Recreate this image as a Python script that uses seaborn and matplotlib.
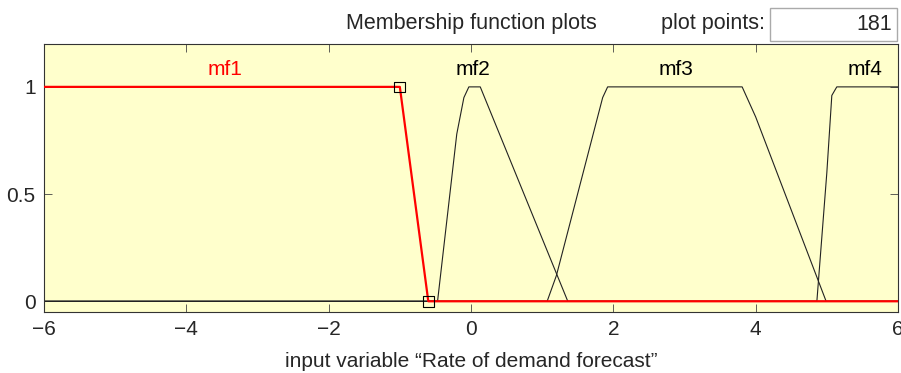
import matplotlib
matplotlib.use("Agg")
import matplotlib.pyplot as plt
import seaborn as sns
import pandas as pd
from matplotlib.patches import Rectangle

# data
mf1_x = [-6, -1.0, -0.6, 6]
mf1_y = [1, 1, 0, 0]
mf2_x = [-6, -0.47, -0.2, -0.1, -0.03, 0.13, 1.36, 6]
mf2_y = [0, 0, 0.78, 0.95, 1, 1, 0, 0]
mf3_x = [-6, 1.07, 1.2, 1.85, 1.92, 3.81, 4.0, 4.99, 6]
mf3_y = [0, 0, 0.12, 0.95, 1, 1, 0.86, 0, 0]
mf4_x = [-6, 4.86, 5.0, 5.07, 5.14, 6]
mf4_y = [0, 0, 0.6, 0.96, 1, 1]
labels = ["mf1", "mf2", "mf3", "mf4"]
label_x = [-3.46, 0.03, 2.88, 5.53]
label_y = 1.08
sq_x = [-1.0, -0.6]
sq_y = [1, 0]
x_ticks = [-6, -4, -2, 0, 2, 4, 6]
x_ticklabels = ["\u22126", "\u22124", "\u22122", "0", "2", "4", "6"]
y_ticks = [0, 0.5, 1]
y_ticklabels = ["0", "0.5", "1"]

sns.set_style("ticks")
plt.rcParams['font.family'] = ['Liberation Sans', 'DejaVu Sans']

fig = plt.figure(figsize=(9.01, 3.73), dpi=100)
ax = fig.add_axes([44/901, 61/373, 854/901, 268/373])
ax.set_facecolor("#ffffcc")

for xs, ys in [(mf2_x, mf2_y), (mf3_x, mf3_y), (mf4_x, mf4_y)]:
    df = pd.DataFrame({"x": xs, "y": ys})
    sns.lineplot(data=df, x="x", y="y", sort=False, color="#222222", lw=0.8, ax=ax, estimator=None)
df1 = pd.DataFrame({"x": mf1_x, "y": mf1_y})
sns.lineplot(data=df1, x="x", y="y", sort=False, color="#ff0000", lw=1.6, ax=ax, estimator=None, zorder=5)
sns.scatterplot(x=sq_x, y=sq_y, marker="s", s=60, facecolor="none", edgecolor="black", linewidth=0.8, ax=ax, zorder=6)

for i, (lab, lx) in enumerate(zip(labels, label_x)):
    ax.text(lx, label_y, lab, ha="center", va="center", fontsize=15,
            color="#ff0000" if i == 0 else "black")

ax.set_xlim(-6, 6)
ax.set_ylim(-0.05, 1.2)
ax.set_xticks(x_ticks)
ax.set_xticklabels(x_ticklabels, fontsize=15)
ax.set_yticks(y_ticks)
ax.set_yticklabels(y_ticklabels, fontsize=15)
ax.tick_params(direction="in", top=True, right=True, length=6, width=0.6, color="#444444", pad=6)
for s in ax.spines.values():
    s.set_linewidth(0.8)
    s.set_color("#333333")
ax.set_xlabel("input variable \u201cRate of demand forecast\u201d", fontsize=15, labelpad=9)
ax.set_ylabel("")

fig.text(471/901, 1 - 23/373, "Membership function plots", ha="center", va="center", fontsize=15.5)
fig.text(713/901, 1 - 23/373, "plot points:", ha="center", va="center", fontsize=15.5)
box = Rectangle((770/901, 1 - 41/373), 127/901, 33/373, transform=fig.transFigure,
                facecolor="white", edgecolor="#aaaaaa", lw=1)
fig.patches.append(box)
fig.text(892/901, 1 - 25/373, "181", ha="right", va="center", fontsize=15.5)

fig.savefig("out.png", dpi=100)
